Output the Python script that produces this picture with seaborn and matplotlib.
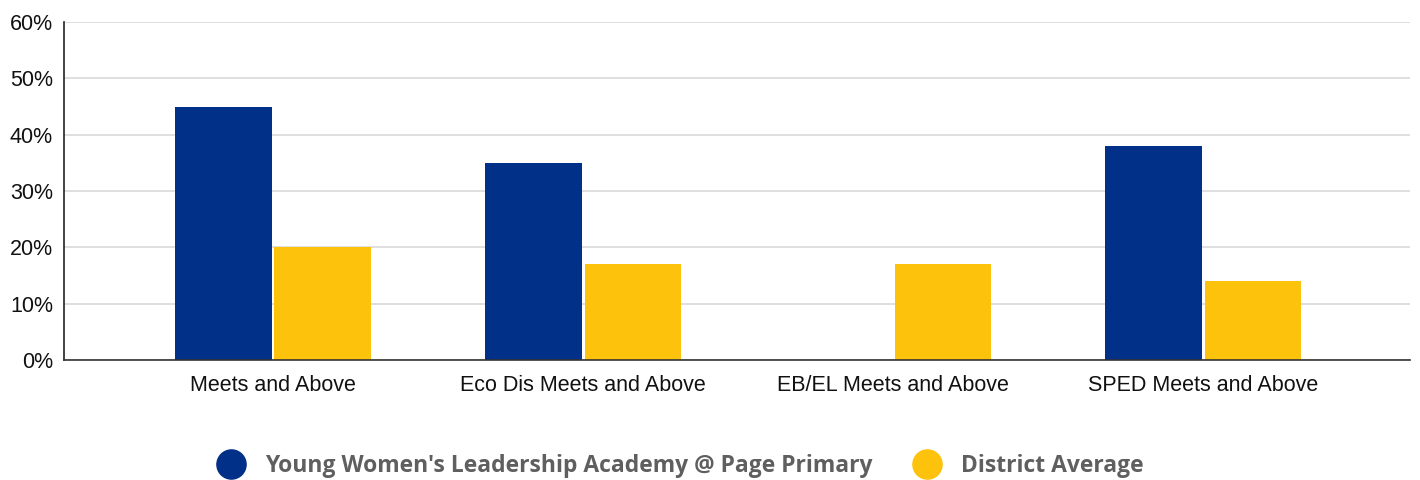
import pandas as pd
import seaborn as sns
import matplotlib.pyplot as plt
from matplotlib.lines import Line2D
from matplotlib.ticker import PercentFormatter

categories = ["Meets and Above", "Eco Dis Meets and Above", "EB/EL Meets and Above", "SPED Meets and Above"]
school_name = "Young Women's Leadership Academy @ Page Primary"
district_name = "District Average"
school_vals = [45, 35, None, 38]
district_vals = [20, 17, 17, 14]
colors = ["#003087", "#FDC20B"]

rows = []
for cat, s, d in zip(categories, school_vals, district_vals):
    rows.append({"category": cat, "group": school_name, "value": s})
    rows.append({"category": cat, "group": district_name, "value": d})
df = pd.DataFrame(rows)

sns.set_style("white")
plt.rcParams['font.family'] = ['Liberation Sans', 'DejaVu Sans']

fig = plt.figure(figsize=(14.2, 4.8), dpi=100)
ax = fig.add_axes([0.0451, 0.25, 0.948, 0.704])

sns.barplot(data=df, x="category", y="value", hue="group", palette=colors, saturation=1,
            width=0.64, gap=0.03, ax=ax, legend=False, edgecolor="none")

ax.set_ylim(0, 60)
ax.set_xlim(-0.674, 3.668)
ax.set_yticks(range(0, 61, 10))
ax.yaxis.set_major_formatter(PercentFormatter(decimals=0))
ax.grid(axis="y", color="#d9d9d9", linewidth=1.2)
ax.set_axisbelow(True)
for side in ["top", "right"]:
    ax.spines[side].set_visible(False)
ax.spines["left"].set_color("#222222")
ax.spines["bottom"].set_color("#333333")
ax.spines["left"].set_linewidth(1.2)
ax.spines["bottom"].set_linewidth(1.2)
ax.tick_params(axis="both", length=0, labelsize=15.5, colors="#111111")
ax.tick_params(axis="x", pad=10.5)
ax.tick_params(axis="y", pad=8)
ax.set_xlabel("")
ax.set_ylabel("")

handles = [Line2D([], [], marker="o", linestyle="", markersize=21, color=c) for c in colors]
leg = fig.legend(handles, [school_name, district_name], loc="center", bbox_to_anchor=(0.476, 0.029),
                 ncol=2, frameon=False, handletextpad=0.5, columnspacing=1.35,
                 prop={"family": "Open Sans", "weight": "bold", "size": 16.5})
for t in leg.get_texts():
    t.set_color("#5f5f5f")

fig.savefig("out.png", dpi=100, facecolor="white")
